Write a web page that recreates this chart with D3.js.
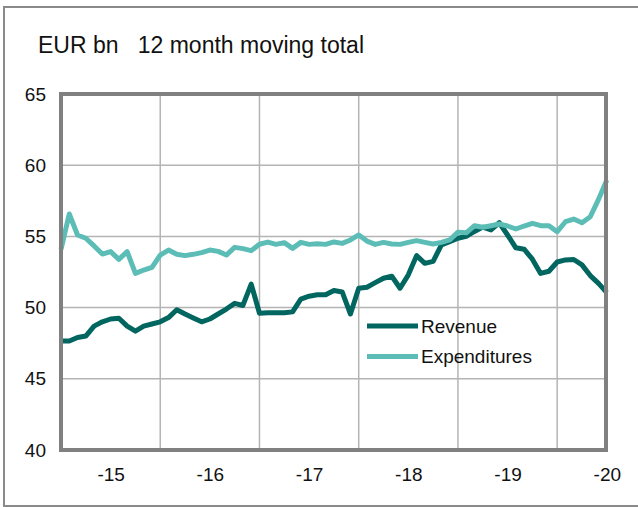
<!DOCTYPE html>
<html><head><meta charset="utf-8">
<script src="https://cdnjs.cloudflare.com/ajax/libs/d3/7.8.5/d3.min.js"></script>
<style>
html,body{margin:0;padding:0;background:#fff;}
text{font-family:"Liberation Sans",Arial,sans-serif;fill:#111;}
</style></head>
<body><svg id="c" width="638" height="507"></svg>
<script>
const categories = [
"2015-01","2015-02","2015-03","2015-04","2015-05","2015-06","2015-07","2015-08","2015-09","2015-10","2015-11","2015-12",
"2016-01","2016-02","2016-03","2016-04","2016-05","2016-06","2016-07","2016-08","2016-09","2016-10","2016-11","2016-12",
"2017-01","2017-02","2017-03","2017-04","2017-05","2017-06","2017-07","2017-08","2017-09","2017-10","2017-11","2017-12",
"2018-01","2018-02","2018-03","2018-04","2018-05","2018-06","2018-07","2018-08","2018-09","2018-10","2018-11","2018-12",
"2019-01","2019-02","2019-03","2019-04","2019-05","2019-06","2019-07","2019-08","2019-09","2019-10","2019-11","2019-12",
"2020-01","2020-02","2020-03","2020-04","2020-05","2020-06","2020-07"];
const revenue = [
47.65,47.65,47.9,48.0,48.7,49.0,49.2,49.25,48.7,48.35,48.7,48.85,
49.0,49.3,49.85,49.55,49.27,49.0,49.2,49.55,49.9,50.3,50.15,51.65,
49.6,49.64,49.64,49.64,49.7,50.6,50.8,50.9,50.9,51.2,51.1,49.55,
51.36,51.43,51.75,52.06,52.2,51.36,52.3,53.65,53.11,53.25,54.4,54.63,
54.87,55.0,55.35,55.65,55.45,55.96,55.1,54.2,54.1,53.4,52.4,52.55,
53.2,53.35,53.38,53.0,52.25,51.7,51.05];
const expenditures = [
54.09,56.57,55.1,54.87,54.33,53.76,53.93,53.39,53.93,52.4,52.64,52.83,
53.69,54.04,53.74,53.65,53.74,53.86,54.04,53.95,53.69,54.23,54.14,54.0,
54.45,54.6,54.44,54.56,54.16,54.58,54.44,54.49,54.44,54.61,54.51,54.75,
55.1,54.67,54.44,54.58,54.47,54.44,54.58,54.7,54.58,54.47,54.58,54.75,
55.3,55.25,55.75,55.64,55.75,55.87,55.73,55.52,55.73,55.92,55.75,55.75,
55.33,56.03,56.22,55.96,56.38,57.6,58.96];
const yearStarts = ["2016-01","2017-01","2018-01","2019-01","2020-01"];
const labelAt = ["2015-07","2016-07","2017-07","2018-07","2019-07","2020-07"];
const xTickLabels = ["-15","-16","-17","-18","-19","-20"];
const yTicks = [40,45,50,55,60,65];
const seriesNames = ["Revenue","Expenditures"];
const colors = ["#00665f","#5cbdb6"];

const svg = d3.select("#c");
const L=61, R=606.8, T=94, B=450;
const x = d3.scalePoint().domain(categories).range([L,R]).padding(0);
const y = d3.scaleLinear().domain([40,65]).range([B,T]);

// outer frame
svg.append("rect").attr("x",4).attr("y",7).attr("width",700).attr("height",499)
  .attr("fill","none").attr("stroke","#8a8a8a").attr("stroke-width",2);

// title
svg.append("text").attr("x",38).attr("y",53).attr("font-size",23)
  .attr("xml:space","preserve").text("EUR bn   12 month moving total");

// gridlines
const g = svg.append("g");
g.selectAll(".hg").data(yTicks.slice(1,-1)).enter().append("line")
  .attr("x1",L).attr("x2",606).attr("y1",d=>y(d)).attr("y2",d=>y(d))
  .attr("stroke","#b4b4b4").attr("stroke-width",1.5);
g.selectAll(".vg").data(yearStarts).enter().append("line")
  .attr("x1",d=>x(d)).attr("x2",d=>x(d)).attr("y1",T).attr("y2",B)
  .attr("stroke","#b4b4b4").attr("stroke-width",1.5);

// lines
const line = d3.line().x((d,i)=>x(categories[i])).y(d=>y(d));
[revenue, expenditures].forEach((s,k)=>{
  svg.append("path").datum(s).attr("d",line).attr("fill","none")
    .attr("stroke",colors[k]).attr("stroke-width",5).attr("stroke-linejoin","round");
});

// plot frame
svg.append("rect").attr("x",L).attr("y",T).attr("width",606-L).attr("height",B-T)
  .attr("fill","none").attr("stroke","#808080").attr("stroke-width",4);

// axes
const yAxis = svg.append("g").attr("transform",`translate(${L},0)`)
  .call(d3.axisLeft(y).tickValues(yTicks).tickSize(0).tickPadding(15).tickFormat(d3.format("d")));
yAxis.select(".domain").remove();
yAxis.selectAll("text").attr("font-size",19).attr("fill","#111").attr("font-family","Liberation Sans, Arial, sans-serif");

const xAxis = svg.append("g").attr("transform",`translate(0,${B})`)
  .call(d3.axisBottom(x).tickValues(labelAt).tickSize(0).tickPadding(18)
    .tickFormat(d=>xTickLabels[labelAt.indexOf(d)]));
xAxis.select(".domain").remove();
xAxis.selectAll("text").attr("font-size",19).attr("fill","#111").attr("font-family","Liberation Sans, Arial, sans-serif");

// legend
const leg = svg.append("g");
seriesNames.forEach((n,k)=>{
  const yy = 326 + k*30.5;
  leg.append("line").attr("x1",367).attr("x2",418).attr("y1",yy).attr("y2",yy)
    .attr("stroke",colors[k]).attr("stroke-width",5);
  leg.append("text").attr("x",421).attr("y",yy+6.5).attr("font-size",19).text(n);
});
</script></body></html>
